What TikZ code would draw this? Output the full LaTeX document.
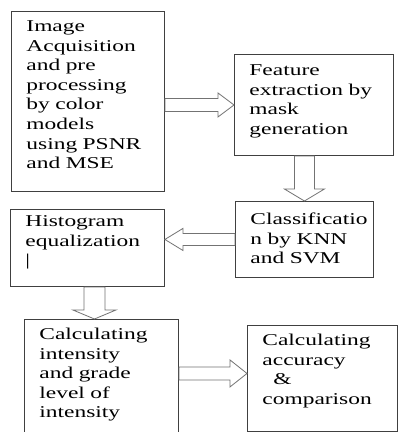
\documentclass[tikz,border=0pt]{standalone}
\usepackage{fontspec}
\setmainfont{Liberation Serif}[FakeStretch=1.42]
\usetikzlibrary{calc}

\tikzset{
  stepbox/.style={draw=black!75, line width=0.9pt, anchor=north west, inner xsep=15pt, inner ysep=0pt,
    align=left, font=\fontsize{16.5}{19.6}\selectfont},
  hollow/.style n args={3}{draw=black!55, line width=0.8pt,
    to path={let \p1=($(\tikztotarget)!#3!(\tikztostart)$) in
      ($(\tikztostart)!#1!90:(\tikztotarget)$) -- ($(\p1)!#1!90:(\tikztotarget)$)
      -- ($(\p1)!#2!90:(\tikztotarget)$) -- (\tikztotarget)
      -- ($(\p1)!#2!-90:(\tikztotarget)$) -- ($(\p1)!#1!-90:(\tikztotarget)$)
      -- ($(\tikztostart)!#1!-90:(\tikztotarget)$) -- cycle}}
}

\begin{document}
\begin{tikzpicture}[x=1pt, y=-1pt]
  \useasboundingbox[fill=white] (0,0) rectangle (398,432);
  \begin{scope}
    \node[stepbox, minimum width=153pt, text width=123pt, text height=20pt, text depth=160pt] (acq) at (11,11)
      {Image\\ Acquisition\\ and~pre\\ processing\\ by~color\\ models\\ using~PSNR\\ and~MSE};
    \node[stepbox, minimum width=159pt, text width=129pt, text height=21pt, text depth=80pt] (feat) at (234,54)
      {Feature\\ extraction~by\\ mask\\ generation};
    \node[stepbox, minimum width=138pt, text width=108pt, text height=23pt, text depth=53pt] (cls) at (235,201)
      {Classificatio\\ n~by~KNN\\ and~SVM};
    \node[stepbox, minimum width=154pt, text width=124pt, text height=17pt, text depth=60pt] (hist) at (10,209)
      {Histogram\\ equalization\\ \textbar};
    \node[stepbox, minimum width=154pt, text width=124pt, text height=20pt, text depth=100pt] (calc) at (24,319)
      {Calculating\\ intensity\\ and~grade\\ level~of\\ intensity};
    \node[stepbox, minimum width=150pt, text width=120pt, text height=20pt, text depth=86pt] (acc) at (247,325)
      {Calculating\\ accuracy\\ ~~\&\\ comparison};
  \end{scope}
  \begin{scope}
    \coordinate (mid) at ($(hist.south)!.5!(calc.north)$);
    \coordinate (accin) at ([yshift=5pt]acc.west);
    \draw[hollow={6.5pt}{12pt}{16pt}] (acq.east |- feat.west) to (feat.west);
    \draw[hollow={10pt}{20pt}{12pt}] (cls.north |- feat.south) to (cls.north);
    \draw[hollow={6pt}{11pt}{18pt}] (cls.west) to (hist.east |- cls.west);
    \draw[hollow={10.5pt}{21.5pt}{9pt}] (hist.south -| mid) to (calc.north -| mid);
    \draw[hollow={6.5pt}{13.5pt}{17pt}] (calc.east |- accin) to (accin);
  \end{scope}
\end{tikzpicture}
\end{document}
